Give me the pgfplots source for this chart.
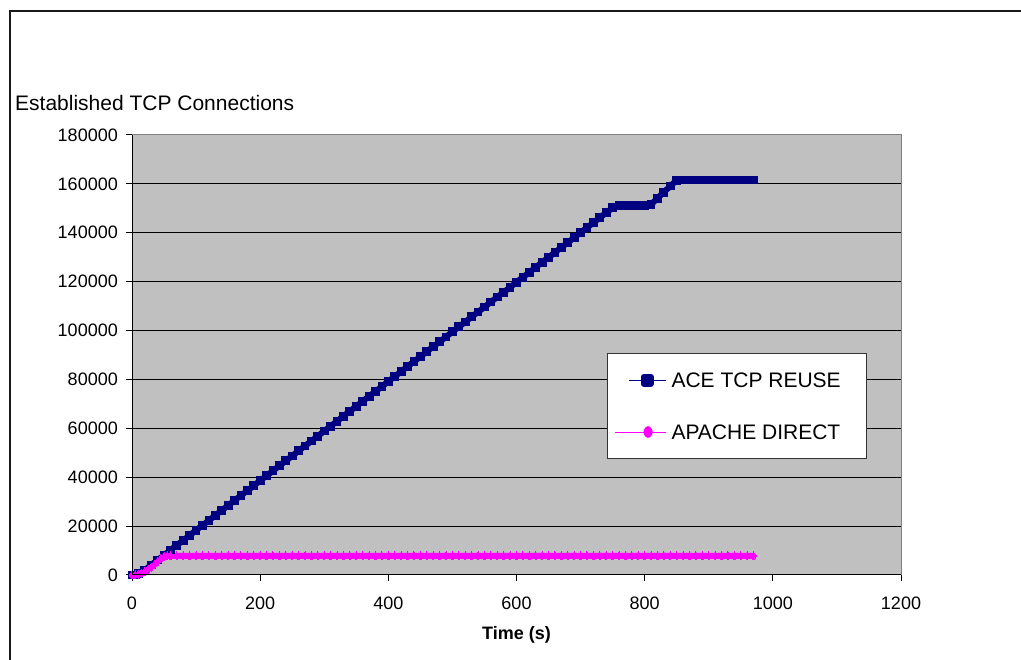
\documentclass[border=0pt]{standalone}
\usepackage{pgfplots}
\pgfplotsset{compat=1.18}
\usepackage{fontspec}
\setmainfont{Liberation Sans}
\definecolor{acenavy}{RGB}{0,0,128}
\definecolor{apachemag}{RGB}{255,0,255}
\definecolor{plotgray}{RGB}{192,192,192}
\begin{document}
\begin{tikzpicture}
\path[use as bounding box] (0pt,0pt) rectangle (1021pt,660pt);
\draw[line width=1.4pt, black!90] (10pt,0pt) -- (10pt,649pt) -- (1021pt,649pt);
\node[anchor=west, inner sep=0pt, font=\fontsize{21}{25}\selectfont] at (15pt,557pt) {Established TCP Connections};
\begin{axis}[
  at={(132pt,85pt)}, anchor=south west,
  scale only axis, width=769pt, height=440pt,
  xmin=0, xmax=1200, ymin=0, ymax=180000,
  xtick={0,200,...,1200},
  ytick={0,20000,...,180000},
  scaled y ticks=false, scaled x ticks=false,
  /pgf/number format/.cd, fixed, precision=0, 1000 sep={}, assume math mode=true, /pgfplots/.cd,
  tick pos=left, tick align=outside, major tick length=6pt,
  tick style={black, line width=1pt},
  tick label style={font=\fontsize{18}{22}\selectfont, inner sep=0pt},
  yticklabel style={xshift=-8pt},
  xticklabel style={yshift=-15.5pt},
  xlabel={Time (s)},
  xlabel style={at={(axis description cs:0.5,-0.136)}, anchor=center, font=\fontsize{18}{22}\selectfont\bfseries, inner sep=0pt},
  axis background/.style={fill=plotgray},
  axis line style={draw=gray, line width=1pt},
  ymajorgrids, grid style={black, line width=1pt},
  clip=false,
  extra description/.code={\draw[black, line width=1pt] (rel axis cs:0,1) -- (rel axis cs:0,0) -- (rel axis cs:1,0);},
  legend style={at={(rel axis cs:0.6177,0.5045)}, anchor=north west, draw=black!80, fill=white, line width=1pt,
    inner xsep=7pt, inner ysep=19.5pt, row sep=37pt, column sep=5pt,
    nodes={inner sep=0pt, text depth=0pt}, cells={anchor=west},
    font=\fontsize{21}{25}\selectfont},
]
\addplot[color=acenavy, line width=6pt, line join=round, mark=square*, mark size=3.9pt, mark options={solid, line width=0pt},
  legend image code/.code={\draw[acenavy, line width=1pt] (14pt,0pt) -- (51pt,0pt); \fill[acenavy] (28.5pt,-3.5pt) rectangle (35.5pt,3.5pt);}]
coordinates {(0,0)(5,0)(10,500)(20,2000)(30,4100)(40,6100)(50,8100)(60,10200)(70,12200)(80,14200)(90,16200)(100,18300)(110,20300)(120,22300)(130,24400)(140,26400)(150,28400)(160,30500)(170,32500)(180,34500)(190,36500)(200,38600)(210,40600)(220,42600)(230,44700)(240,46700)(250,48700)(260,50800)(270,52800)(280,54800)(290,56800)(300,58900)(310,60900)(320,62900)(330,65000)(340,67000)(350,69000)(360,71100)(370,73100)(380,75100)(390,77100)(400,79200)(410,81200)(420,83200)(430,85300)(440,87300)(450,89300)(460,91400)(470,93400)(480,95400)(490,97400)(500,99500)(510,101500)(520,103500)(530,105600)(540,107600)(550,109600)(560,111700)(570,113700)(580,115700)(590,117700)(600,119800)(610,121800)(620,123800)(630,125900)(640,127900)(650,129900)(660,132000)(670,134000)(680,136000)(690,138000)(700,140100)(710,142100)(720,144100)(730,146200)(740,148200)(750,150200)(760,151000)(770,151000)(780,151000)(790,151000)(800,151000)(810,151600)(820,154100)(830,156600)(840,159100)(850,161500)(860,161600)(870,161600)(880,161600)(890,161600)(900,161600)(910,161600)(920,161600)(930,161600)(940,161600)(950,161600)(960,161600)(970,161600)};
\addlegendentry{ACE TCP REUSE\hspace*{19pt}}
\addplot[color=apachemag, line width=6pt, line join=round, mark=diamond*, mark size=4pt, mark options={solid, line width=0pt},
  legend image code/.code={\draw[apachemag, line width=1pt] (0pt,0pt) -- (51pt,0pt); \fill[apachemag] (33pt,-3pt) -- (35pt,0pt) -- (33pt,3pt) -- (31pt,0pt) -- cycle;}]
coordinates {(0,0)(5,0)(10,300)(15,800)(20,1500)(25,2300)(30,3200)(35,4300)(40,5500)(45,6700)(50,7500)(55,7800)(60,7800)(70,7800)(80,7800)(90,7800)(100,7800)(110,7800)(120,7800)(130,7800)(140,7800)(150,7800)(160,7800)(170,7800)(180,7800)(190,7800)(200,7800)(210,7800)(220,7800)(230,7800)(240,7800)(250,7800)(260,7800)(270,7800)(280,7800)(290,7800)(300,7800)(310,7800)(320,7800)(330,7800)(340,7800)(350,7800)(360,7800)(370,7800)(380,7800)(390,7800)(400,7800)(410,7800)(420,7800)(430,7800)(440,7800)(450,7800)(460,7800)(470,7800)(480,7800)(490,7800)(500,7800)(510,7800)(520,7800)(530,7800)(540,7800)(550,7800)(560,7800)(570,7800)(580,7800)(590,7800)(600,7800)(610,7800)(620,7800)(630,7800)(640,7800)(650,7800)(660,7800)(670,7800)(680,7800)(690,7800)(700,7800)(710,7800)(720,7800)(730,7800)(740,7800)(750,7800)(760,7800)(770,7800)(780,7800)(790,7800)(800,7800)(810,7800)(820,7800)(830,7800)(840,7800)(850,7800)(860,7800)(870,7800)(880,7800)(890,7800)(900,7800)(910,7800)(920,7800)(930,7800)(940,7800)(950,7800)(960,7800)(970,7800)};
\addlegendentry{APACHE DIRECT\hspace*{19pt}}
\end{axis}
\end{tikzpicture}
\end{document}
